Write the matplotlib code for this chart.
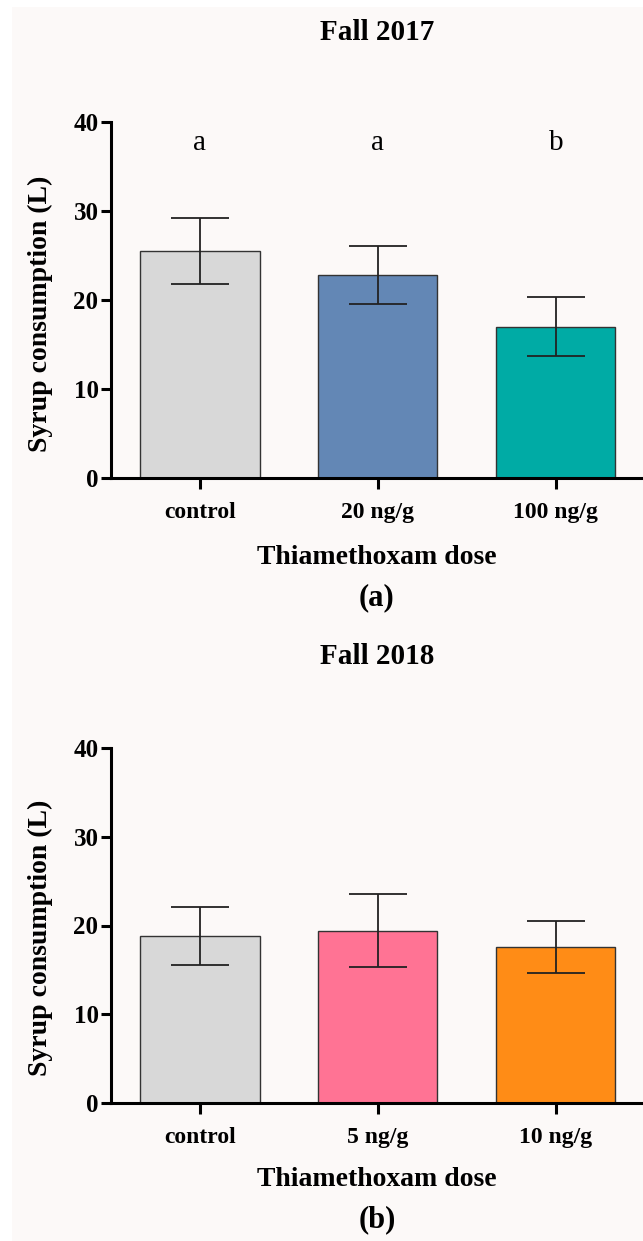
import matplotlib.pyplot as plt
from matplotlib.patches import Rectangle
import numpy as np

# syrup consumption per treatment, mean and error
doses_2017 = ['control', '20 ng/g', '100 ng/g']
means_2017 = [25.5, 22.8, 17.0]
errs_2017 = [3.75, 3.3, 3.3]
letters_2017 = ['a', 'a', 'b']
colors_2017 = ['#D8D8D8', '#6387B5', '#00ABA5']

doses_2018 = ['control', '5 ng/g', '10 ng/g']
means_2018 = [18.8, 19.4, 17.6]
errs_2018 = [3.3, 4.1, 2.9]
colors_2018 = ['#D8D8D8', '#FF7394', '#FF8C16']

bg = '#FCF9F8'
plt.rcParams['font.family'] = ['Liberation Serif', 'DejaVu Serif']

W, H = 643, 1241
fig = plt.figure(figsize=(W / 100, H / 100), dpi=100)
fig.patch.set_facecolor('white')
fig.patches.append(Rectangle((12 / W, 0), 1, 1 - 7 / H, transform=fig.transFigure,
                             facecolor=bg, edgecolor='none', zorder=-10))

ax1 = fig.add_axes([111 / W, 1 - 478 / H, 1 - 111 / W, 356 / H])
ax2 = fig.add_axes([111 / W, 1 - 1103 / H, 1 - 111 / W, 355 / H])


def draw_panel(ax, labels, means, errs, colors, title, tag, y_title, y_ylab, y_xlab, y_tag):
    x = np.arange(len(labels))
    ax.set_facecolor('none')
    ax.bar(x, means, width=0.67, color=colors, edgecolor='#333333', linewidth=1.0, zorder=2)
    ax.errorbar(x, means, yerr=errs, fmt='none', ecolor='#222222', elinewidth=1.3,
                capsize=21, capthick=1.3, zorder=3)
    ax.set_xlim(-0.5, 2.49)
    ax.set_ylim(0, 40)
    ax.set_yticks([0, 10, 20, 30, 40])
    ax.set_xticks(x)
    ax.set_xticklabels(labels, fontsize=17, fontweight='bold')
    for t in ax.get_yticklabels():
        t.set_fontsize(18)
        t.set_fontweight('bold')
    ax.tick_params(axis='x', direction='out', length=8, width=2.2, pad=9)
    ax.tick_params(axis='y', direction='out', length=7, width=2.2, pad=2)
    ax.spines['right'].set_visible(False)
    ax.spines['top'].set_visible(False)
    ax.spines['left'].set_linewidth(2.2)
    ax.spines['bottom'].set_linewidth(2.2)
    fig.text(40 / W, 1 - y_ylab / H, 'Syrup consumption (L)', rotation=90,
             ha='center', va='center', fontsize=20, fontweight='bold')
    fig.text(377 / W, 1 - y_xlab / H, 'Thiamethoxam dose', ha='center', va='center',
             fontsize=20, fontweight='bold')
    fig.text(377 / W, 1 - y_title / H, title, ha='center', va='center',
             fontsize=21, fontweight='bold')
    fig.text(377 / W, 1 - y_tag / H, tag, ha='center', va='center',
             fontsize=22, fontweight='bold')


draw_panel(ax1, doses_2017, means_2017, errs_2017, colors_2017,
           'Fall 2017', '(a)', 32, 314, 557, 598)
draw_panel(ax2, doses_2018, means_2018, errs_2018, colors_2018,
           'Fall 2018', '(b)', 657, 938, 1180, 1220)

for i, s in enumerate(letters_2017):
    ax1.text(i, 37.6, s, ha='center', va='center', fontsize=21)

fig.savefig('out.png', dpi=100, facecolor='white')
